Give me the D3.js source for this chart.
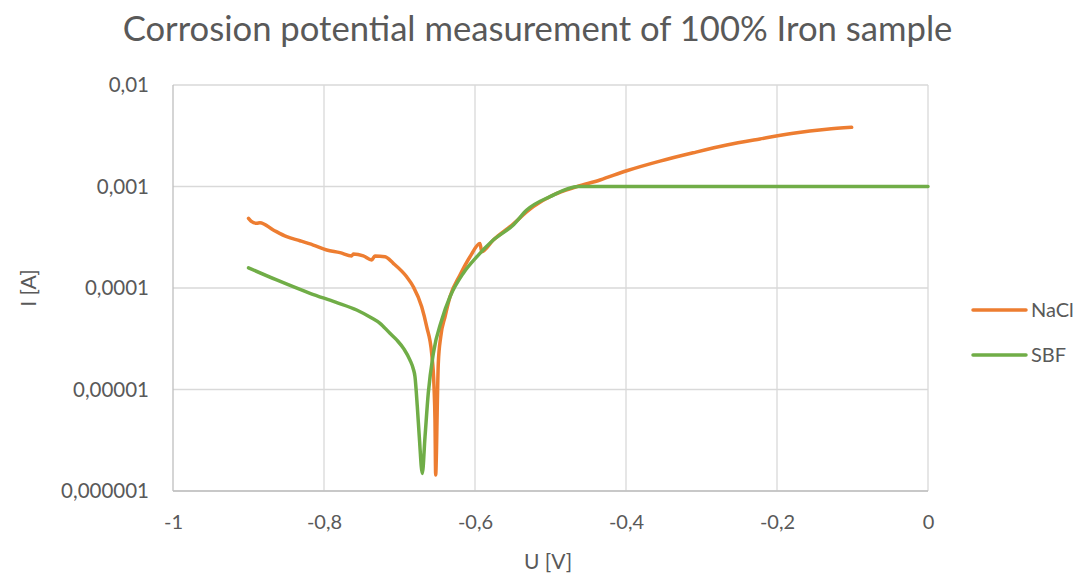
<!DOCTYPE html>
<html>
<head>
<meta charset="utf-8">
<script src="https://cdn.jsdelivr.net/npm/d3@7/dist/d3.min.js"></script>
<style>
  html, body { margin: 0; padding: 0; background: #fff; }
  svg { display: block; font-family: Lato, "Open Sans", "Liberation Sans", sans-serif; }
</style>
</head>
<body>
<svg id="chart" width="1077" height="574"></svg>
<script>
// Polarisation curves: potential U [V] vs. current I [A]
const naclU = [-0.900, -0.8967, -0.8891, -0.8848, -0.8672, -0.8494, -0.8318, -0.8142, -0.7964, -0.7788,
  -0.7633, -0.7612, -0.7479, -0.7368, -0.7325, -0.7192, -0.7082, -0.6905, -0.6817, -0.6706,
  -0.6640, -0.6574, -0.6543, -0.6530, -0.6521, -0.6510, -0.6503, -0.6486, -0.6454, -0.6397,
  -0.6331, -0.6199, -0.6066, -0.5934, -0.5911, -0.5758, -0.5536, -0.5228, -0.4963, -0.4653,
  -0.4344, -0.3991, -0.3550, -0.3109, -0.2666, -0.2225, -0.1784, -0.1342, -0.1011];
const naclI = [4.86e-4, 4.57e-4, 4.34e-4, 4.40e-4, 3.73e-4, 3.20e-4, 2.92e-4, 2.65e-4, 2.37e-4, 2.23e-4,
  2.07e-4, 2.16e-4, 2.07e-4, 1.89e-4, 2.07e-4, 2.03e-4, 1.75e-4, 1.29e-4, 1.03e-4, 6.54e-5,
  4.16e-5, 2.27e-5, 1.07e-5, 5.01e-6, 1.44e-6, 2.53e-6, 5.0e-6, 1.81e-5, 3.31e-5, 5.21e-5,
  8.20e-5, 1.34e-4, 2.03e-4, 2.75e-4, 2.28e-4, 2.97e-4, 4.02e-4, 6.33e-4, 8.25e-4, 9.96e-4,
  1.16e-3, 1.43e-3, 1.78e-3, 2.15e-3, 2.56e-3, 2.94e-3, 3.34e-3, 3.66e-3, 3.83e-3];

const sbfU = [-0.900, -0.8627, -0.8185, -0.7847, -0.7567, -0.7380, -0.7258, -0.7130, -0.7037, -0.6940,
  -0.6861, -0.6820, -0.6795, -0.6764, -0.6738, -0.6698, -0.6662, -0.6619, -0.6552, -0.6441,
  -0.6331, -0.6155, -0.5977, -0.5758, -0.5493, -0.5315, -0.5007, -0.4632, -0.4, -0.2, 0.0];
const sbfI = [1.58e-4, 1.20e-4, 8.87e-5, 7.25e-5, 6.07e-5, 5.12e-5, 4.49e-5, 3.60e-5, 3.08e-5, 2.50e-5,
  1.95e-5, 1.62e-5, 1.34e-5, 6.77e-6, 3.43e-6, 1.49e-6, 3.43e-6, 9.18e-6, 2.27e-5, 4.84e-5,
  8.20e-5, 1.40e-4, 2.03e-4, 2.97e-4, 4.18e-4, 5.86e-4, 7.94e-4, 1.0e-3, 1.0e-3, 1.0e-3, 1.0e-3];

const xTicks = [-1, -0.8, -0.6, -0.4, -0.2, 0];
const xTickLabels = ["-1", "-0,8", "-0,6", "-0,4", "-0,2", "0"];
const yTicks = [0.01, 0.001, 0.0001, 0.00001, 0.000001];
const yTickLabels = ["0,01", "0,001", "0,0001", "0,00001", "0,000001"];

const seriesNames = ["NaCl", "SBF"];
const seriesColors = ["#ED7D31", "#70AD47"];

const titleText = "Corrosion potential measurement of 100% Iron sample";
const xTitle = "U [V]";
const yTitle = "I [A]";

// ---- layout ----
const plot = { left: 173, right: 928, top: 85, bottom: 491 };
const textColor = "#595959";

const svg = d3.select("#chart");

const x = d3.scaleLinear().domain([-1, 0]).range([plot.left, plot.right]);
const y = d3.scaleLog().domain([0.000001, 0.01]).range([plot.bottom, plot.top]);

// gridlines
const grid = svg.append("g");
grid.selectAll("line.h").data(yTicks).join("line")
  .attr("x1", plot.left).attr("x2", plot.right)
  .attr("y1", d => y(d)).attr("y2", d => y(d))
  .attr("stroke", "#d9d9d9").attr("stroke-width", 1.3);
grid.selectAll("line.v").data(xTicks.slice(1)).join("line")
  .attr("x1", d => x(d)).attr("x2", d => x(d))
  .attr("y1", plot.top).attr("y2", plot.bottom)
  .attr("stroke", "#d9d9d9").attr("stroke-width", 1.3);

// axis lines
svg.append("line").attr("x1", plot.left).attr("x2", plot.left)
  .attr("y1", plot.top).attr("y2", plot.bottom)
  .attr("stroke", "#bfbfbf").attr("stroke-width", 1.3);
svg.append("line").attr("x1", plot.left).attr("x2", plot.right)
  .attr("y1", plot.bottom).attr("y2", plot.bottom)
  .attr("stroke", "#bfbfbf").attr("stroke-width", 1.3);

// axes (labels only)
const xAxis = d3.axisBottom(x).tickValues(xTicks)
  .tickFormat((d, i) => xTickLabels[i]).tickSize(0).tickPadding(24);
const gx = svg.append("g").attr("transform", `translate(0,${plot.bottom})`).call(xAxis);
gx.select(".domain").remove();
gx.selectAll("text").attr("fill", textColor).style("font-size", "20px")
  .style("font-family", "Lato, 'Open Sans', sans-serif");

const yAxis = d3.axisLeft(y).tickValues(yTicks)
  .tickFormat((d, i) => yTickLabels[i]).tickSize(0).tickPadding(24);
const gy = svg.append("g").attr("transform", `translate(${plot.left},0)`).call(yAxis);
gy.select(".domain").remove();
gy.selectAll("text").attr("fill", textColor).style("font-size", "20.5px")
  .style("font-family", "Lato, 'Open Sans', sans-serif");

// series
const line = d3.line().x(d => x(d[0])).y(d => y(d[1])).curve(d3.curveMonotoneX);
const naclData = naclU.map((u, i) => [u, naclI[i]]);
const sbfData = sbfU.map((u, i) => [u, sbfI[i]]);

svg.append("path").datum(naclData).attr("d", line)
  .attr("fill", "none").attr("stroke", seriesColors[0])
  .attr("stroke-width", 3.5).attr("stroke-linejoin", "round").attr("stroke-linecap", "round");
svg.append("path").datum(sbfData).attr("d", line)
  .attr("fill", "none").attr("stroke", seriesColors[1])
  .attr("stroke-width", 3.5).attr("stroke-linejoin", "round").attr("stroke-linecap", "round");

// title
const title = svg.append("text")
  .attr("x", (plot.left + plot.right) / 2 - 13).attr("y", 41)
  .attr("text-anchor", "middle").attr("fill", textColor)
  .style("font-size", "29px").style("font-weight", 400)
  .text(titleText);
// keep the title at its designed width
const tw = title.node().getComputedTextLength();
if (tw > 0) title.style("font-size", (29 * 830 / tw).toFixed(2) + "px");

// axis titles
svg.append("text").attr("x", 548).attr("y", 569)
  .attr("text-anchor", "middle").attr("fill", textColor)
  .style("font-size", "21px").text(xTitle);
svg.append("text").attr("transform", "translate(36,288) rotate(-90)")
  .attr("text-anchor", "middle").attr("fill", textColor)
  .style("font-size", "21px").text(yTitle);

// legend
const legend = svg.append("g");
const legendY = [310, 355];
seriesNames.forEach((name, i) => {
  legend.append("line").attr("x1", 973).attr("x2", 1026)
    .attr("y1", legendY[i]).attr("y2", legendY[i])
    .attr("stroke", seriesColors[i]).attr("stroke-width", 3.5).attr("stroke-linecap", "round");
  legend.append("text").attr("x", 1031).attr("y", legendY[i]).attr("dy", "0.35em")
    .attr("fill", textColor).style("font-size", "20px").text(name);
});
</script>
</body>
</html>
